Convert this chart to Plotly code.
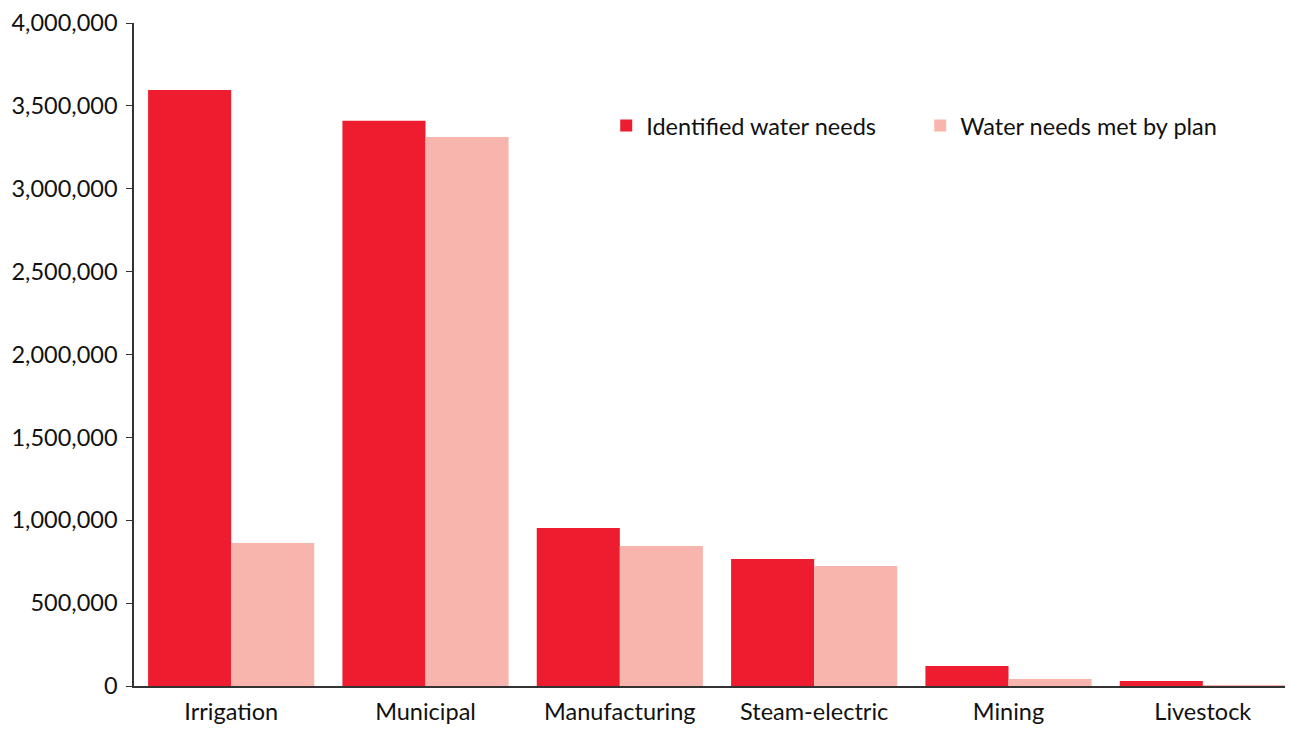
import plotly.graph_objects as go

categories = ["Irrigation", "Municipal", "Manufacturing", "Steam-electric", "Mining", "Livestock"]
identified = [3596000, 3410000, 953000, 766000, 121000, 30000]
met_by_plan = [863000, 3312000, 845000, 724000, 42000, 2000]
tick_vals = [0, 500000, 1000000, 1500000, 2000000, 2500000, 3000000, 3500000, 4000000]
tick_text = ["0", "500,000", "1,000,000", "1,500,000", "2,000,000", "2,500,000", "3,000,000", "3,500,000", "4,000,000"]

fig = go.Figure()
fig.add_trace(go.Bar(x=categories, y=identified, name="Identified water needs",
                     marker=dict(color="#ED1C2E", line=dict(width=0))))
fig.add_trace(go.Bar(x=categories, y=met_by_plan, name="Water needs met by plan",
                     marker=dict(color="#F8B5AD", line=dict(width=0))))

fig.update_layout(
    width=1293, height=730,
    margin=dict(l=126, r=1, t=15, b=52, autoexpand=False),
    paper_bgcolor="white", plot_bgcolor="white",
    barmode="group", bargap=0.145, bargroupgap=0,
    font=dict(family="Lato, sans-serif", size=23.5, color="#111111"),
    legend=dict(orientation="h", x=0.405, y=0.845, xanchor="left", yanchor="middle",
                bgcolor="rgba(0,0,0,0)", font=dict(size=23.5), itemwidth=30,
                entrywidth=269, traceorder="normal"),
    showlegend=True,
)
fig.update_yaxes(range=[0, 4000000], tickvals=tick_vals, ticktext=tick_text,
                 showgrid=False, zeroline=False, showline=True, linecolor="#333333",
                 linewidth=1.5, ticks="outside", ticklen=6, tickcolor="#333333",
                 ticklabelstandoff=4, automargin=False)
fig.update_xaxes(showgrid=False, showline=True, linecolor="#333333", linewidth=1.5,
                 ticks="", ticklabelstandoff=4, automargin=False)

fig.write_html("out.html")
